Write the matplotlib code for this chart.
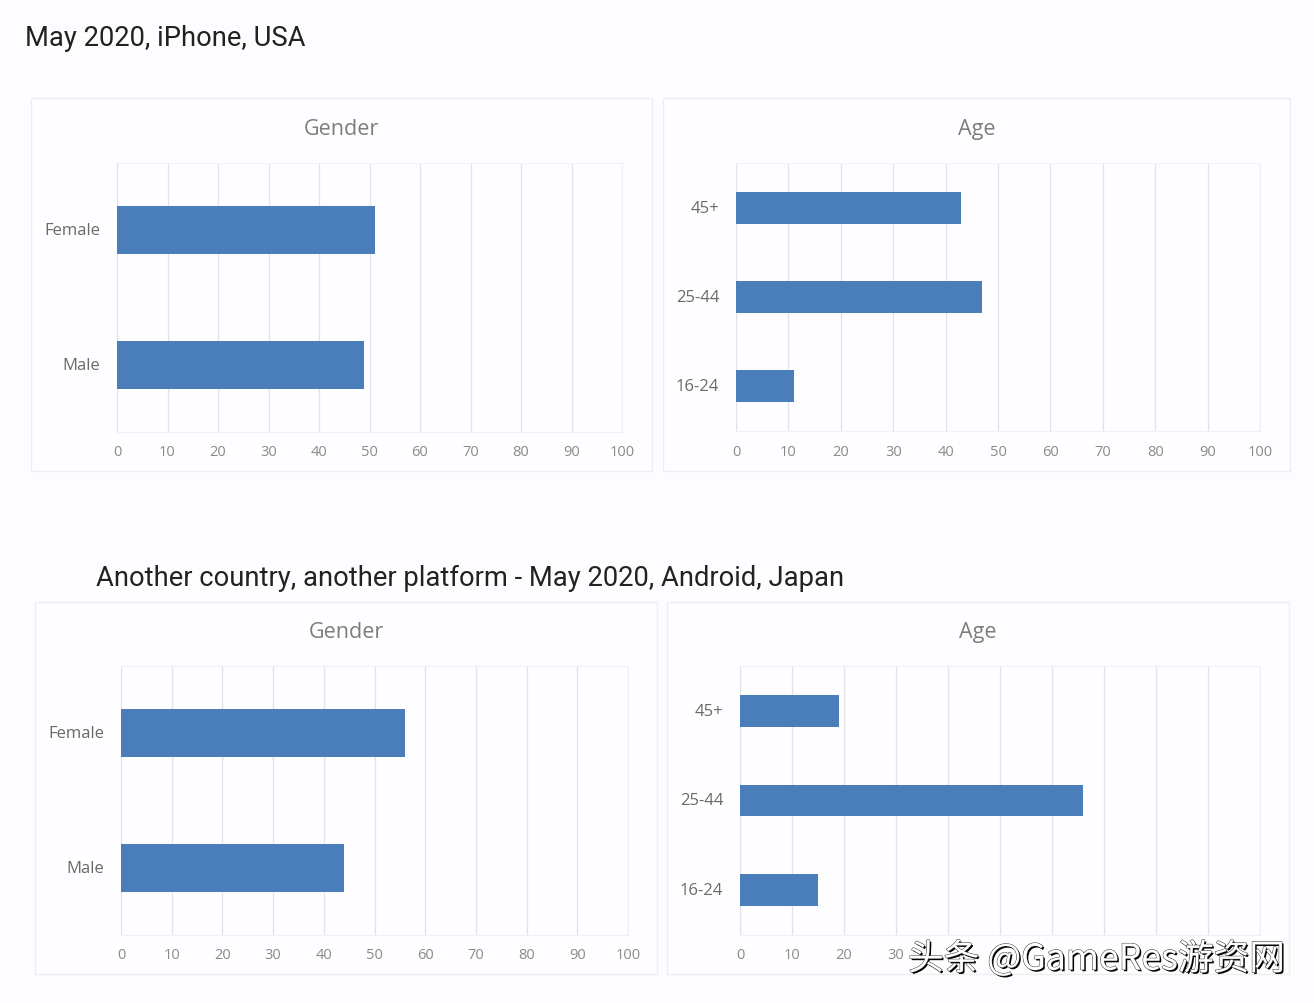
# -*- coding: utf-8 -*-
"""Audience share by gender and age, iPhone USA vs Android Japan."""

import matplotlib
matplotlib.use("Agg")
import matplotlib.pyplot as plt
import matplotlib.patheffects as pe
from matplotlib.patches import Rectangle

W, H = 1314, 1004
BG = "#fdfcfe"
BAR = "#4a7ebb"
GRID = "#e1e4e6"
EDGE = "#eeeef1"
TEXT = "#6a6a6a"

gender_labels = ["Male", "Female"]
age_labels = ["16-24", "25-44", "45+"]
ticks = [0, 10, 20, 30, 40, 50, 60, 70, 80, 90, 100]

usa_gender = [49, 51]
usa_age = [11, 47, 43]
japan_gender = [44, 56]
japan_age = [15, 66, 19]

fig = plt.figure(figsize=(W / 100, H / 100), dpi=100, facecolor=BG)


def px_axes(x0, y0, x1, y1, **kw):
    # pixel box measured from the top left of the picture
    return fig.add_axes([x0 / W, 1 - y1 / H, (x1 - x0) / W, (y1 - y0) / H], **kw)


def panel(card, plot, title, labels, values, title_y):
    x0, y0, x1, y1 = card
    fig.add_artist(Rectangle((x0 / W, 1 - y1 / H), (x1 - x0) / W, (y1 - y0) / H,
                             transform=fig.transFigure, facecolor="#fefdff",
                             edgecolor=EDGE, linewidth=1, zorder=0))
    fig.text((x0 + x1) / 2 / W, 1 - title_y / H, title, family="Open Sans",
             fontsize=15.5, color="#7d7d7d", ha="center", va="center")

    ax = px_axes(*plot)
    ax.patch.set_alpha(0)
    ax.barh(labels, values, height=0.355, color=BAR, zorder=3)
    ax.set_xlim(0, 100)
    ax.set_ylim(-0.5, len(labels) - 0.5)
    ax.set_xticks(ticks)
    ax.grid(axis="x", color=GRID, linewidth=0.9, zorder=1)
    ax.set_axisbelow(True)
    for side in ax.spines:
        ax.spines[side].set_color("#f1f1f4")
        ax.spines[side].set_linewidth(0.8)
    ax.spines["left"].set_color(GRID)
    ax.tick_params(axis="both", length=0)
    ax.tick_params(axis="x", labelsize=10.5, labelcolor="#8a8a8a", pad=9)
    ax.tick_params(axis="y", labelsize=12, labelcolor=TEXT, pad=12)
    for lab in ax.get_xticklabels() + ax.get_yticklabels():
        lab.set_family("Open Sans")
    for lab in ax.get_yticklabels():
        lab.set_verticalalignment("center")
    return ax


panel((31, 99, 652, 472), (117, 164, 622, 433), "Gender", gender_labels, usa_gender, 129.5)
panel((663, 99, 1290, 472), (736, 164, 1260, 432), "Age", age_labels, usa_age, 129.5)
panel((35, 603, 657, 975), (121, 667, 628, 936), "Gender", gender_labels, japan_gender, 632.5)
panel((667, 603, 1289, 975), (740, 667, 1260, 936), "Age", age_labels, japan_age, 632.5)

fig.text(25 / W, 1 - 38.5 / H, "May 2020, iPhone, USA", family="Roboto",
         fontsize=19.7, color="#222222", ha="left", va="center")
fig.text(96 / W, 1 - 578 / H, "Another country, another platform - May 2020, Android, Japan",
         family="Roboto", fontsize=19.7, color="#222222", ha="left", va="center")

# watermark sits over the last tick labels of the bottom right chart
fig.add_artist(Rectangle((906 / W, 1 - 974 / H), 380 / W, 33 / H,
                         transform=fig.transFigure, facecolor="#fefdff",
                         edgecolor="none", zorder=5))
fig.text(908 / W, 1 - 960 / H, "头条 @GameRes游资网",
         family=["Noto Sans CJK SC", "DejaVu Sans"], fontsize=25.7, color="white",
         ha="left", va="center", zorder=6,
         path_effects=[pe.withSimplePatchShadow(offset=(1.2, -1.2), shadow_rgbFace="black",
                                                alpha=1),
                       pe.withStroke(linewidth=0.7, foreground="#333333")])

fig.savefig("out.png", dpi=100, facecolor=BG)
